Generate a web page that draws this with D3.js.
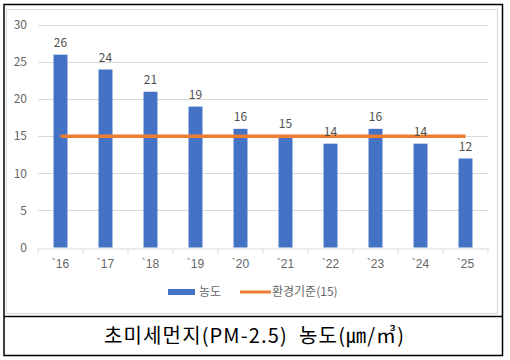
<!DOCTYPE html>
<html><head><meta charset="utf-8">
<script src="https://cdn.jsdelivr.net/npm/d3@7"></script>
<style>
body{margin:0;background:#fff;}
svg{display:block;font-family:"Noto Sans CJK KR","Noto Sans",sans-serif;}
</style></head>
<body><svg id="c" width="510" height="360"></svg>
<script>
const categories = ["`16","`17","`18","`19","`20","`21","`22","`23","`24","`25"];
const concentration = [26,24,21,19,16,15,14,16,14,12];
const standard = [15,15,15,15,15,15,15,15,15,15];
const yTicks = [0,5,10,15,20,25,30];
const seriesNames = ["농도","환경기준(15)"];
const title = "초미세먼지(PM-2.5)  농도(㎛/㎥)";

const svg = d3.select("#c");
const blue = "#4472C4", orange = "#ED7D31";

// frames
svg.append("rect").attr("x",6.5).attr("y",9.5).attr("width",491).attr("height",304)
  .attr("fill","none").attr("stroke","#d9d9d9");
svg.append("rect").attr("x",4).attr("y",4.5).attr("width",498.5).attr("height",351)
  .attr("fill","none").attr("stroke","#000").attr("stroke-width",1.5);
svg.append("line").attr("x1",4).attr("x2",502.5).attr("y1",316.5).attr("y2",316.5)
  .attr("stroke","#000").attr("stroke-width",1.5);

const x = d3.scaleBand().domain(categories).range([38,488]).paddingInner(0.69).paddingOuter(0.345);
const y = d3.scaleLinear().domain([0,30]).range([247.5,25]);

// grid
svg.append("g").selectAll("line").data(yTicks.filter(d=>d>0)).join("line")
  .attr("x1",38).attr("x2",488).attr("y1",d=>Math.round(y(d))+0.5).attr("y2",d=>Math.round(y(d))+0.5)
  .attr("stroke","#d9d9d9");

// y labels
svg.append("g").selectAll("text").data(yTicks).join("text")
  .attr("x",27).attr("y",d=>y(d)).attr("dy","0.35em").attr("text-anchor","end")
  .attr("font-size",12).attr("fill","#666").text(d=>d);

// bars
svg.append("g").selectAll("rect").data(concentration).join("rect")
  .attr("x",(d,i)=>x(categories[i])).attr("width",x.bandwidth())
  .attr("y",d=>y(d)).attr("height",d=>y(0)-y(d)).attr("fill",blue);

// x axis
const xa = svg.append("g").attr("transform",`translate(0,${Math.round(y(0))+0.5})`)
  .call(d3.axisBottom(x).tickSize(0).tickPadding(11));
xa.select(".domain").attr("stroke","#d9d9d9");
xa.selectAll("text").attr("font-size",12).attr("fill","#666").attr("font-family","inherit");
const step = x.step();
xa.selectAll(".bnd").data(d3.range(categories.length+1)).join("line").attr("class","bnd")
  .attr("x1",i=>38+i*step).attr("x2",i=>38+i*step).attr("y1",0).attr("y2",5).attr("stroke","#d9d9d9");

// standard line
const line = d3.line().x((d,i)=>x(categories[i])+x.bandwidth()/2).y(d=>y(d));
svg.append("path").datum(standard).attr("d",line).attr("fill","none")
  .attr("stroke",orange).attr("stroke-width",3.5);

// value labels
svg.append("g").selectAll("text").data(concentration).join("text")
  .attr("x",(d,i)=>x(categories[i])+x.bandwidth()/2).attr("y",d=>y(d)-8)
  .attr("text-anchor","middle").attr("font-size",12).attr("fill","#505050").text(d=>d);

// legend
const lg = svg.append("g");
lg.append("rect").attr("x",168).attr("y",289).attr("width",27).attr("height",6).attr("fill",blue);
lg.append("text").attr("x",199).attr("y",292).attr("dy","0.35em").attr("font-size",12).attr("fill","#666").text(seriesNames[0]);
lg.append("line").attr("x1",240).attr("x2",271).attr("y1",292).attr("y2",292).attr("stroke",orange).attr("stroke-width",3);
lg.append("text").attr("x",272).attr("y",292).attr("dy","0.35em").attr("font-size",12).attr("fill","#666").text(seriesNames[1]);

// title
svg.append("text").attr("x",254).attr("y",336).attr("dy","0.35em").attr("text-anchor","middle")
  .attr("font-size",20).attr("fill","#000").attr("xml:space","preserve").style("white-space","pre")
  .attr("textLength",300).attr("lengthAdjust","spacing").text(title);
</script></body></html>
